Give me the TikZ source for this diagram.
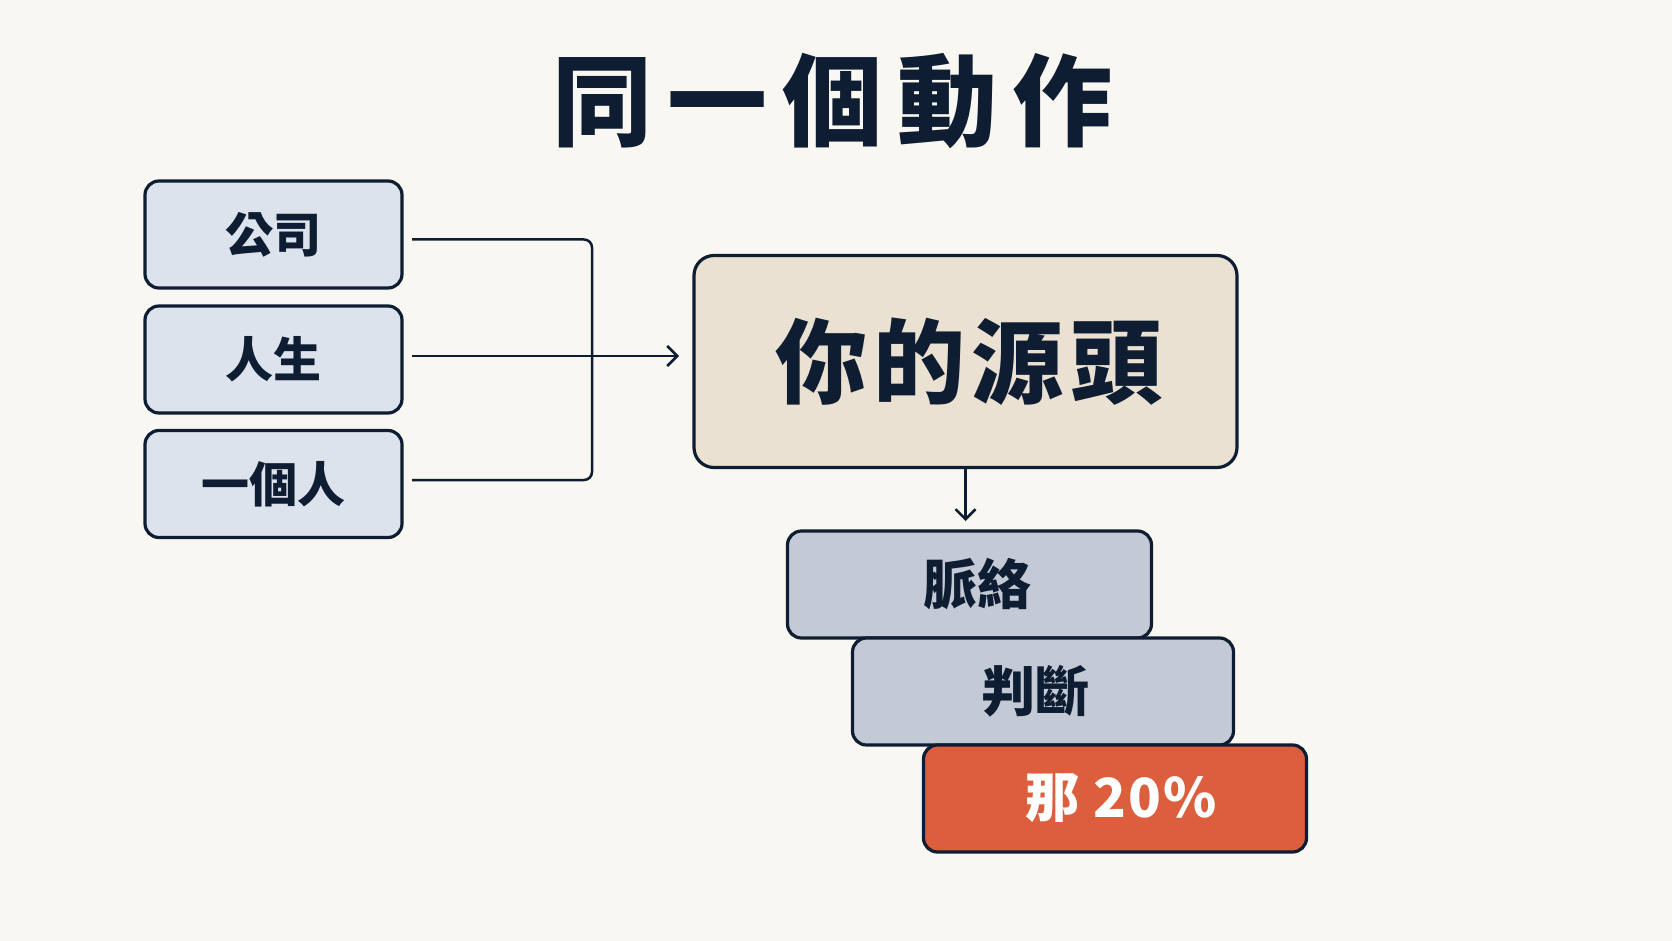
\documentclass[tikz,border=0pt]{standalone}
\usepackage{fontspec}
\usepackage{tikz}
\usetikzlibrary{arrows.meta, positioning, calc}
\newfontfamily\cjk{Noto Sans CJK TC}
\definecolor{bgpaper}{HTML}{F9F7F2}
\definecolor{ink}{HTML}{0F1D33}
\definecolor{sidefill}{HTML}{DCE3EC}
\definecolor{srcfill}{HTML}{EBE1D2}
\definecolor{greyfill}{HTML}{C3CAD6}
\definecolor{accent}{HTML}{DD5E3D}

\begin{document}
\begin{tikzpicture}[
    x=0.5pt, y=-0.5pt,
    box/.style={draw=ink, line width=1.6pt, outer sep=0pt, rounded corners=7pt, align=center, text=ink, font=\cjk\bfseries},
    sidebox/.style={box, fill=sidefill, minimum width=128.5pt, minimum height=53.5pt, font=\cjk\bfseries\fontsize{24}{28}\selectfont},
    stackbox/.style={box, fill=greyfill, minimum height=53.5pt, font=\cjk\bfseries\fontsize{27}{32}\selectfont},
    link/.style={draw=ink, line width=1.25pt},
    arrow/.style={link, -{Straight Barb[length=5pt, width=10pt]}}
]
    \fill[bgpaper] (0,0) rectangle (1672,941);
    \useasboundingbox (0,0) rectangle (1672,941);

    \node[text=ink, font=\cjk\bfseries\fontsize{50}{56}\selectfont\addfontfeatures{LetterSpace=15}] (title) at (832,101) {同一個動作};

    % three things on the left
    \node[sidebox] (gongsi) at (273.5,234.5) {公司};
    \node[sidebox] (rensheng) at (273.5,359.5) {人生};
    \node[sidebox] (yigeren) at (273.5,484) {一個人};

    \node[box, fill=srcfill, minimum width=271.5pt, minimum height=106pt, rounded corners=10pt,
          font=\cjk\bfseries\fontsize{46}{52}\selectfont\addfontfeatures{LetterSpace=7}] (yuantou) at (965.5,361.5) {\hspace{3.2pt}你的源頭};

    \coordinate (bus) at (592,356);
    \draw[link, rounded corners=4pt] ([xshift=5pt, yshift=-2.5pt]gongsi.east) -| (bus) |- ([xshift=5pt, yshift=2pt]yigeren.east);
    \draw[arrow, shorten >=7.5pt] ([xshift=5pt]rensheng.east |- bus) -- (yuantou.west |- bus);

    % stacked layers
    \node[stackbox, minimum width=182pt] (mailuo) at (969.5,584.5) {\hspace{8pt}脈絡};
    \node[stackbox, minimum width=190.5pt, anchor=north west] (panduan) at ([xshift=32.5pt]mailuo.south west) {\hspace{-8pt}判斷};
    \node[stackbox, fill=accent, text=white, minimum width=191.5pt, anchor=north west,
          font=\cjk\bfseries\fontsize{27}{32}\selectfont\addfontfeatures{LetterSpace=4}] (twenty) at ([xshift=35.5pt]panduan.south west) {\hspace{6pt}那 20\%};

    \draw[arrow, shorten >=5pt] (yuantou.south) -- (yuantou.south |- mailuo.north);
\end{tikzpicture}
\end{document}
